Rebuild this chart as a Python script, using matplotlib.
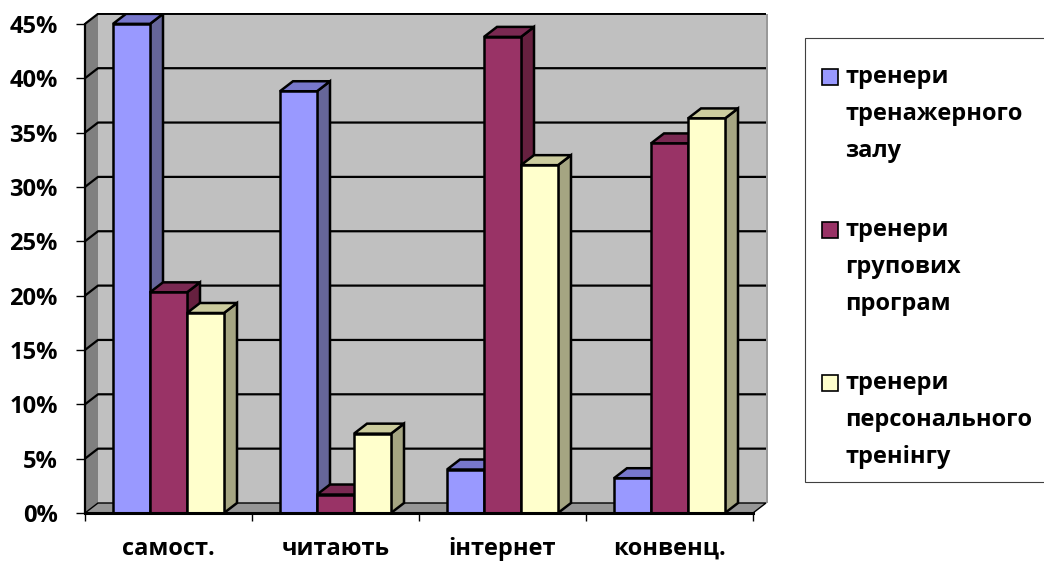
import matplotlib
matplotlib.use("Agg")
import matplotlib.pyplot as plt
from matplotlib.patches import Polygon, Rectangle

plt.rcParams['font.family'] = ['Open Sans', 'DejaVu Sans']
plt.rcParams['font.weight'] = 'bold'

categories = ['самост.', 'читають', 'інтернет', 'конвенц.']
series_names = ['тренери\nтренажерного\nзалу',
                'тренери\nгрупових\nпрограм',
                'тренери\nперсонального\nтренінгу']
gym = [45.0, 38.8, 4.0, 3.2]
group = [20.3, 1.7, 43.8, 34.0]
personal = [18.4, 7.3, 32.0, 36.3]
y_ticks = [0, 5, 10, 15, 20, 25, 30, 35, 40, 45]
y_labels = ['0%', '5%', '10%', '15%', '20%', '25%', '30%', '35%', '40%', '45%']

# front, side, top colours for each series
faces = [('#9999FF', '#666699', '#7777CC'),
         ('#993366', '#66203F', '#7A2952'),
         ('#FFFFCC', '#A5A582', '#CCCC9E')]

W, H = 1044, 561
fig = plt.figure(figsize=(W / 100, H / 100), dpi=100)
ax = fig.add_axes([85 / W, (H - 513) / H, 683 / W, 500 / H])
ax.set_xlim(0, 683 / 167)
ax.set_ylim(0, 500 / 10.87)
ax.set_facecolor('none')

# depth of the 3d look in data units
dx = 13 / 167
dy = 10 / 10.87
n = len(categories)
top = y_ticks[-1]
lw = 1.8

# walls and floor
ax.add_patch(Polygon([(0, 0), (0, top), (dx, top + dy), (dx, dy)],
                     closed=True, facecolor='#808080', edgecolor='none', zorder=1))
ax.add_patch(Rectangle((dx, dy), n, top, facecolor='#C0C0C0',
                       edgecolor='none', zorder=1))
ax.add_patch(Rectangle((n + dx, dy), 0.015, top, facecolor='#999999',
                       edgecolor='none', zorder=1))
ax.add_patch(Polygon([(0, 0), (n, 0), (n + dx, dy), (dx, dy)], closed=True,
                     facecolor='#969696', edgecolor='black', lw=1.0, zorder=2))

# gridlines run over the side wall and the back wall
for v in y_ticks[1:]:
    ax.plot([0, dx, n + dx], [v, v + dy, v + dy], color='black', lw=1.6,
            zorder=2, solid_capstyle='butt')

# bars
bw = 37 / 167
gap = (1 - 3 * bw) / 2
for i in range(n):
    for j, vals in enumerate([gym, group, personal]):
        h = vals[i]
        x0 = i + gap + j * bw
        front, side, topc = faces[j]
        ax.add_patch(Polygon([(x0 + bw, 0), (x0 + bw + dx, dy),
                              (x0 + bw + dx, h + dy), (x0 + bw, h)],
                             closed=True, facecolor=side, edgecolor='black',
                             lw=lw, zorder=3, joinstyle='miter'))
        ax.add_patch(Polygon([(x0, h), (x0 + dx, h + dy),
                              (x0 + bw + dx, h + dy), (x0 + bw, h)],
                             closed=True, facecolor=topc, edgecolor='black',
                             lw=lw, zorder=3, joinstyle='miter'))
        ax.add_patch(Rectangle((x0, 0), bw, h, facecolor=front,
                               edgecolor='black', lw=lw, zorder=3,
                               joinstyle='miter'))

# axes lines and ticks
for s in ['top', 'right']:
    ax.spines[s].set_visible(False)
ax.spines['left'].set_bounds(0, top)
ax.spines['bottom'].set_bounds(0, n)
ax.spines['left'].set_linewidth(1.6)
ax.spines['bottom'].set_linewidth(2.2)
for s in ['left', 'bottom']:
    ax.spines[s].set_zorder(5)
ax.set_yticks(y_ticks, y_labels, fontsize=17, fontweight='bold')
ax.tick_params(axis='y', length=6.5, width=1.0, pad=13)
ax.set_xticks(range(n + 1), minor=True)
ax.set_xticks([])
ax.tick_params(axis='x', which='minor', length=6, width=1.0)
for i, c in enumerate(categories):
    ax.text(i + 0.5, -0.072, c, transform=ax.get_xaxis_transform(),
            ha='center', va='center', fontsize=17, fontweight='bold')

# legend box
fig.add_artist(Rectangle((805 / W, 1 - 482 / H), 260 / W, 444 / H,
                         transform=fig.transFigure, facecolor='white',
                         edgecolor='#404040', lw=0.8))
centers = [77, 230, 383]
for j, name in enumerate(series_names):
    yc = centers[j]
    fig.add_artist(Rectangle((822 / W, 1 - (yc + 8) / H), 16 / W, 16 / H,
                             transform=fig.transFigure,
                             facecolor=faces[j][0], edgecolor='black', lw=1.2))
    for k, line in enumerate(name.split('\n')):
        fig.text(845 / W, 1 - (yc + k * 37) / H, line, ha='left',
                 va='center', fontsize=17, fontweight='bold')

fig.savefig('out.png', dpi=100)
